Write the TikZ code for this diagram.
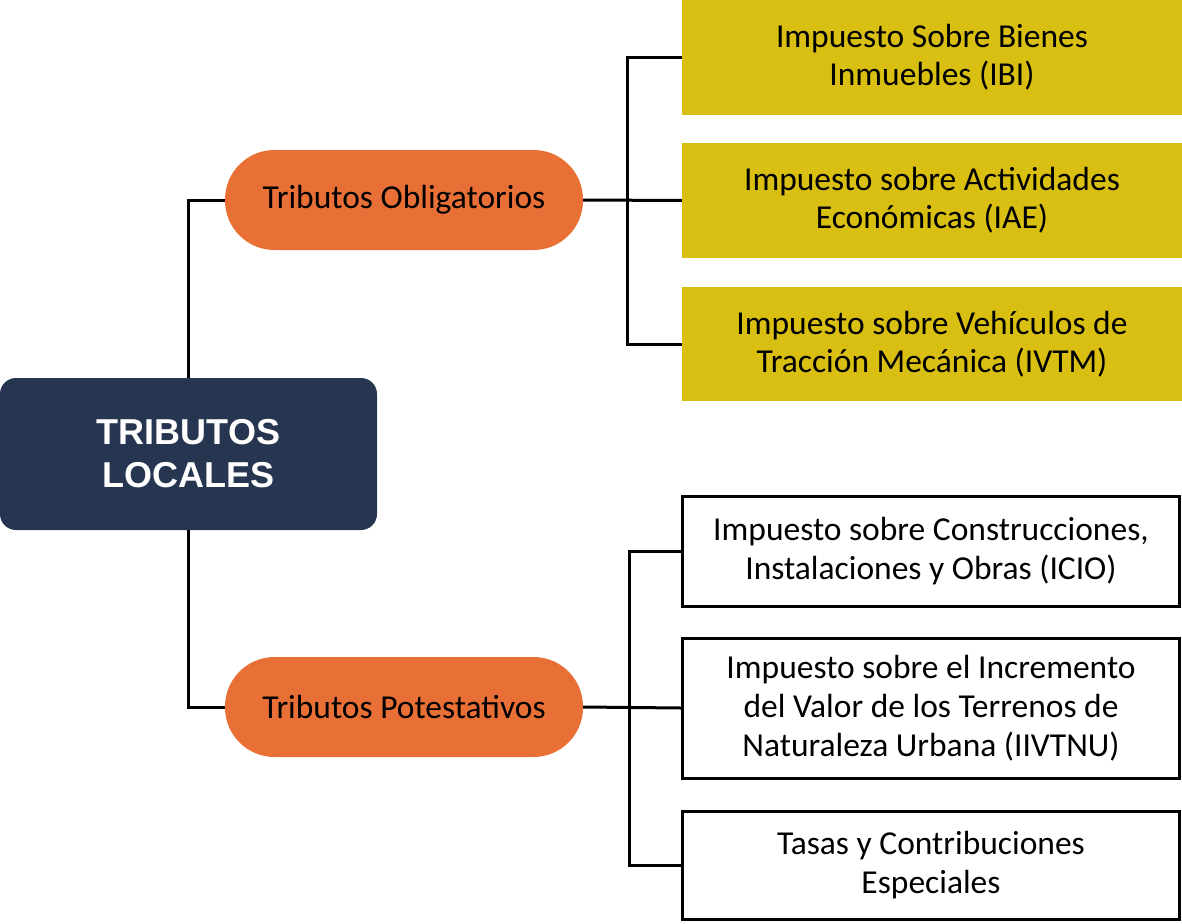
\documentclass[tikz,border=0pt]{standalone}
\usepackage{fontspec}
\setmainfont{Carlito}
\newfontfamily\headfont{Liberation Sans}
\usepackage{tikz}

\definecolor{navy}{HTML}{263550}
\definecolor{naranja}{HTML}{E87036}
\definecolor{mostaza}{HTML}{D9BF12}

\tikzset{
    raiz/.style={rectangle, rounded corners=16pt, fill=navy, text=white, align=center,
        minimum width=377pt, minimum height=152pt,
        font=\headfont\bfseries\fontsize{36}{43}\selectfont},
    grupo/.style={rectangle, rounded corners=49.5pt, fill=naranja,
        minimum width=358pt, minimum height=100pt, font=\fontsize{33.5}{39}\selectfont},
    oblig/.style={rectangle, fill=mostaza, align=center, inner sep=0pt,
        minimum width=500pt, font=\fontsize{33.5}{38}\selectfont},
    potest/.style={rectangle, draw=black, line width=3pt, fill=white, align=center, inner sep=0pt,
        minimum width=497pt, font=\fontsize{33.5}{39}\selectfont},
    linea/.style={line width=3pt}
}

\begin{document}
\begin{tikzpicture}[x=1pt,y=-1pt]
    \useasboundingbox (0,0) rectangle (1182,923);

    % draw root and groups
    \node[raiz] (locales) at (188.5,454) {TRIBUTOS\\LOCALES};
    \node[grupo] (obligatorios) at (404,200) {Tributos Obligatorios};
    \node[grupo] (potestativos) at (404,707) {Tributos Potestativos};

    % draw obligatory taxes
    \node[oblig, minimum height=115pt] (ibi) at (932,57.5) {Impuesto Sobre Bienes\\Inmuebles (IBI)};
    \node[oblig, minimum height=115pt] (iae) at (932,200.5) {Impuesto sobre Actividades\\Económicas (IAE)};
    \node[oblig, minimum height=114pt] (ivtm) at (932,344) {Impuesto sobre Vehículos de\\Tracción Mecánica (IVTM)};

    % draw optional taxes
    \node[potest, minimum height=110pt] (icio) at (931,551) {Impuesto sobre Construcciones,\\Instalaciones y Obras (ICIO)};
    \node[potest, minimum height=140pt] (iivtnu) at (931,708) {Impuesto sobre el Incremento\\del Valor de los Terrenos de\\Naturaleza Urbana (IIVTNU)};
    \node[potest, minimum height=108pt] (tasas) at (931,865) {Tasas y Contribuciones\\Especiales};

    % draw lines
    \draw[linea] (locales.north) |- (obligatorios.west);
    \draw[linea] (locales.south) |- (potestativos.west);
    \draw[linea] (obligatorios.east) -- (iae.west);
    \draw[linea] (potestativos.east) -- (iivtnu.west);
    \draw[linea] (ibi.west) -- ++(-54,0) |- (ivtm.west);
    \draw[linea] (icio.west) -- ++(-52,0) |- (tasas.west);
\end{tikzpicture}
\end{document}
